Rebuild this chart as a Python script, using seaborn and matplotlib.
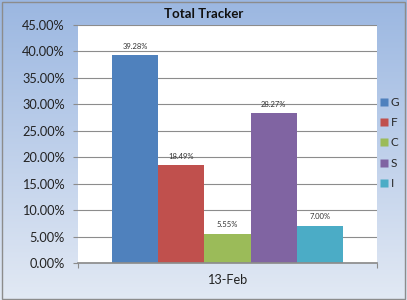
import numpy as np
import pandas as pd
import matplotlib
matplotlib.use("Agg")
import matplotlib.pyplot as plt
import seaborn as sns
from matplotlib.ticker import FuncFormatter, MultipleLocator, FixedLocator
from matplotlib.patches import Rectangle
from matplotlib.lines import Line2D
from matplotlib.colors import LinearSegmentedColormap

dates = ["13-Feb"]
categories = ["G", "F", "C", "S", "I"]
values = [39.28, 18.49, 5.55, 28.27, 7.00]
colors = ["#4f81bd", "#c0504d", "#9bbb59", "#8064a2", "#4bacc6"]

df = pd.DataFrame({"date": dates * len(categories), "cat": categories, "val": values})

sns.set_theme(style="white")
plt.rcParams["font.family"] = ["Lato", "DejaVu Sans"]

fig = plt.figure(figsize=(4.07, 3.0), dpi=100)
# gradient background
bg = fig.add_axes([0, 0, 1, 1], zorder=-10)
grad = np.linspace(0, 1, 256).reshape(-1, 1)
cmap = LinearSegmentedColormap.from_list("bg", ["#9bb7e1", "#e2e9f4"])
bg.imshow(grad, aspect="auto", cmap=cmap, extent=[0, 1, 0, 1], origin="upper")
bg.add_patch(Rectangle((0.004, 0.005), 0.991, 0.99, fill=False, edgecolor="#8c8c8c", lw=1.0, transform=bg.transAxes))
bg.set_axis_off()

ax = fig.add_axes([78/407, 1-263/300, 299/407, 238/300])
sns.barplot(data=df, x="date", y="val", hue="cat", palette=colors, width=0.773,
            ax=ax, legend=False, saturation=1, edgecolor="none")
ax.set_facecolor("white")
ax.set_ylim(0, 45)
ax.set_xlim(-0.5, 0.5)
ax.yaxis.set_major_locator(MultipleLocator(5))
ax.yaxis.set_major_formatter(FuncFormatter(lambda v, p: f"{v:.2f}%"))
ax.xaxis.set_minor_locator(FixedLocator([-0.5, 0.5]))
ax.grid(axis="y", color="#8c8c8c", lw=0.8)
ax.set_axisbelow(True)
for s in ["top", "right", "left"]:
    ax.spines[s].set_visible(False)
ax.spines["bottom"].set_color("#8c8c8c")
ax.tick_params(axis="y", which="major", labelsize=9.2, colors="#8c8c8c", labelcolor="#222222",
               left=True, length=3.6, width=0.8, pad=6)
ax.tick_params(axis="x", which="major", labelsize=9.2, labelcolor="#222222", length=0, pad=8)
ax.tick_params(axis="x", which="minor", bottom=True, length=3.6, width=0.8, colors="#8c8c8c")
ax.set_xlabel("")
ax.set_ylabel("")

for cont in ax.containers:
    for bar, v in zip(cont, cont.datavalues):
        ax.annotate(f"{v:.2f}%", (bar.get_x() + bar.get_width()/2, bar.get_height()),
                    xytext=(0, 4), textcoords="offset points", ha="center", va="bottom",
                    fontsize=5.5, color="#333333")

fig.text(0.5, 0.935, "Total Tracker", ha="center", va="bottom", fontsize=9.5, fontweight="bold", color="#111111")

handles = [Line2D([0], [0], marker="s", linestyle="none", markersize=5.5, markerfacecolor=c, markeredgecolor="none") for c in colors]
fig.legend(handles, categories, loc="center left", bbox_to_anchor=(380/407, 1-143/300), frameon=False,
           fontsize=8.5, handlelength=0.7, handletextpad=0.2, labelspacing=0.78, borderaxespad=0,
           borderpad=0)

fig.savefig("out.png", dpi=100)
